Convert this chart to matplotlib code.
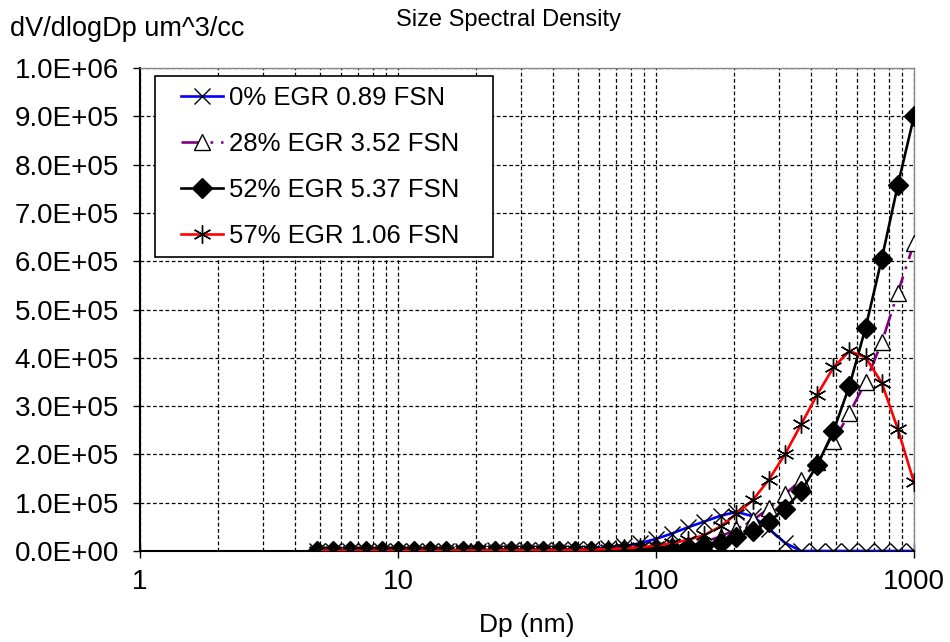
import numpy as np
import matplotlib
matplotlib.use("Agg")
import matplotlib.pyplot as plt
from matplotlib.patches import Rectangle
from matplotlib.ticker import FixedLocator, FuncFormatter, LogLocator, NullFormatter

# ---------------- data ----------------
dp_nm = [4.87, 5.62, 6.49, 7.50, 8.66, 10.0, 11.5, 13.3, 15.4, 17.8,
         20.5, 23.7, 27.4, 31.6, 36.5, 42.2, 48.7, 56.2, 64.9, 75.0,
         86.6, 100, 115, 133, 154, 178, 205, 237, 274, 316,
         365, 422, 487, 562, 649, 750, 866, 1000]

egr0 = [300, 350, 400, 450, 500, 550, 600, 700, 800, 900,
        1000, 1200, 1400, 1700, 2000, 2500, 3500, 5000, 7000, 10000,
        16000, 25000, 36000, 49000, 61000, 73000, 81000, 72000, 46000, 17000,
        0, 0, 0, 0, 0, 0, 0, 0]

egr28 = [100, 100, 100, 120, 140, 160, 180, 200, 220, 250,
         280, 300, 350, 400, 450, 550, 700, 900, 1300, 2000,
         3000, 5000, 8000, 12000, 19000, 30000, 45000, 64000, 88000, 117000,
         147000, 185000, 227000, 285000, 350000, 432000, 535000, 638000]

egr52 = [100, 100, 100, 100, 120, 140, 160, 180, 200, 220,
         250, 280, 300, 350, 400, 450, 550, 700, 1000, 1500,
         2200, 3500, 5600, 9000, 12400, 17000, 29000, 42000, 61000, 87000,
         124000, 178000, 248000, 342000, 462000, 605000, 758000, 900000]

egr57 = [800, 800, 850, 850, 900, 900, 950, 1000, 1000, 1100,
         1200, 1300, 1400, 1500, 1700, 1900, 2300, 3000, 4000, 5600,
         7700, 11000, 16000, 23000, 33000, 51000, 77000, 105000, 148000, 200000,
         262000, 324000, 380000, 414000, 401000, 348000, 252000, 142000]

labels = ["0% EGR 0.89 FSN", "28% EGR 3.52 FSN", "52% EGR 5.37 FSN", "57% EGR 1.06 FSN"]

# ---------------- figure ----------------
plt.rcParams['font.family'] = ['Liberation Sans', 'DejaVu Sans']

W, H = 950, 642
AX_L, AX_R, AX_T, AX_B = 140, 914, 68, 551

fig = plt.figure(figsize=(W / 100, H / 100), dpi=100)
ax = fig.add_axes([AX_L / W, 1 - AX_B / H, (AX_R - AX_L) / W, (AX_B - AX_T) / H])


def px_to_ax(x, y):
    # pixel position in the picture -> axes fraction
    return (x - AX_L) / (AX_R - AX_L), (AX_B - y) / (AX_B - AX_T)


ax.plot(dp_nm, egr0, color='#0000FF', lw=1.9, marker='x', ms=11, mec='black',
        mew=1.0, label=labels[0], zorder=3)
ax.plot(dp_nm, egr28, color='#800080', lw=1.9, ls=(0, (8, 3, 1, 3)), marker='^', ms=11,
        mfc='white', mec='black', mew=1.0, label=labels[1], zorder=4)
ax.plot(dp_nm, egr52, color='black', lw=1.9, marker='D', ms=10, mfc='black',
        mec='black', label=labels[2], zorder=5)
ax.plot(dp_nm, egr57, color='#FF0000', lw=1.9, marker=(6, 2, 0), ms=13, mec='black',
        mew=1.0, label=labels[3], zorder=6)

ax.set_xscale('log')
ax.set_xlim(1, 1000)
ax.set_ylim(0, 1.0e6)

ax.xaxis.set_major_locator(FixedLocator([1, 10, 100, 1000]))
ax.xaxis.set_major_formatter(FuncFormatter(lambda v, p: f"{v:g}"))
ax.xaxis.set_minor_locator(LogLocator(base=10, subs=np.arange(2, 10)))
ax.xaxis.set_minor_formatter(NullFormatter())
ax.set_yticks(np.arange(0, 1.0e6 + 1, 1.0e5))
ax.yaxis.set_major_formatter(FuncFormatter(lambda v, p: f"{v:.1E}"))

ax.grid(True, which='both', axis='x', color='black', ls=(0, (3, 2)), lw=0.9)
ax.grid(True, which='major', axis='y', color='black', ls=(0, (3, 2)), lw=0.9)
ax.set_axisbelow(True)

ax.tick_params(axis='y', which='major', direction='out', length=5, width=1,
               labelsize=20, pad=10)
ax.tick_params(axis='x', which='major', direction='inout', length=10, width=1,
               labelsize=20, pad=8)
ax.tick_params(axis='x', which='minor', length=0)

for side in ['left', 'bottom']:
    ax.spines[side].set_color('black')
    ax.spines[side].set_linewidth(1.5)
for side in ['top', 'right']:
    ax.spines[side].set_color('#888888')
    ax.spines[side].set_linewidth(1.0)

ax.set_xlabel('Dp (nm)', fontsize=19, labelpad=13)

fig.text(10 / W, 1 - 29 / H, 'dV/dlogDp um^3/cc', fontsize=19.5, ha='left', va='center')
fig.text(508 / W, 1 - 20 / H, 'Size Spectral Density', fontsize=17, ha='center',
         va='center')

# legend: entries without frame, frame drawn as its own box
leg = ax.legend(loc='upper left', bbox_to_anchor=px_to_ax(181, 86), borderaxespad=0,
                fontsize=18.5, frameon=False, handlelength=1.65, handletextpad=0.2,
                labelspacing=0.85, borderpad=0)
leg.set_zorder(11)
x0, y0 = px_to_ax(155, 257)
x1, y1 = px_to_ax(493, 76)
ax.add_patch(Rectangle((x0, y0), x1 - x0, y1 - y0, transform=ax.transAxes,
                       facecolor='white', edgecolor='black', lw=1.2, zorder=10))

fig.savefig('out.png', dpi=100)
